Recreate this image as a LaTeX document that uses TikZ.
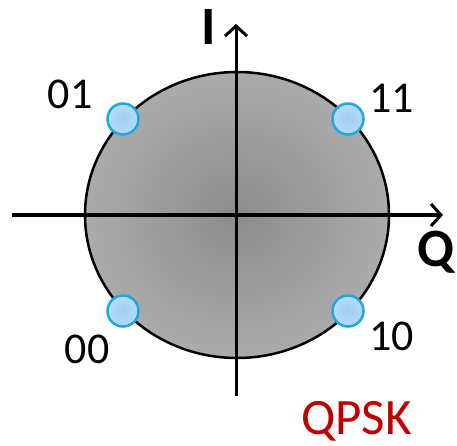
\documentclass[tikz,border=0pt]{standalone}
\usepackage{fontspec}
\setmainfont{Carlito}
\usetikzlibrary{arrows.meta}
\definecolor{dotline}{HTML}{1EA8DF}
\definecolor{dotin}{HTML}{9FCDF2}
\definecolor{dotout}{HTML}{B4DCF7}
\definecolor{qred}{HTML}{C00000}
\tikzset{
  axis/.style={line width=3pt, -{Straight Barb[length=10pt,width=22pt,line width=3pt]}},
  sym/.style={circle, minimum size=31pt, inner sep=0pt, draw=dotline, line width=2.5pt, inner color=dotin, outer color=dotout},
  lbl/.style={anchor=base, inner sep=0pt, font=\fontsize{44}{48}\selectfont},
  axlbl/.style={anchor=base, inner sep=0pt, font=\fontsize{54}{58}\selectfont\bfseries},
}
\begin{document}
\begin{tikzpicture}[x=1pt,y=-1pt]
\useasboundingbox (0,0) rectangle (457,446);
\coordinate (c) at (237,215);
\shade[inner color=black!45, outer color=black!33] (c) ellipse (152 and 143);
\draw[line width=2.5pt] (c) ellipse (152 and 143);
\coordinate (hl) at (12,215);
\coordinate (hr) at (443,215);
\coordinate (vb) at (236,396);
\coordinate (vt) at (236,24);
\draw[axis] (hl) -- (hr);
\draw[axis] (vb) -- (vt);
\node[sym] (p01) at (123,119) {};
\node[sym] (p11) at (348,119) {};
\node[sym] (p00) at (123,311) {};
\node[sym] (p10) at (348,311) {};
\node[lbl] (l01) at (70,109) {01};
\node[lbl] (l11) at (391.5,113) {11};
\node[lbl] (l00) at (87,363) {00};
\node[lbl] (l10) at (391.5,350) {10};
\node[axlbl] (li) at (209,45) {I};
\node[axlbl] (lq) at (436,266) {Q};
\node[anchor=base east, inner sep=0pt, text=qred, font=\fontsize{51}{55}\selectfont] (qpsk) at (412,434) {QPSK};
\end{tikzpicture}
\end{document}
